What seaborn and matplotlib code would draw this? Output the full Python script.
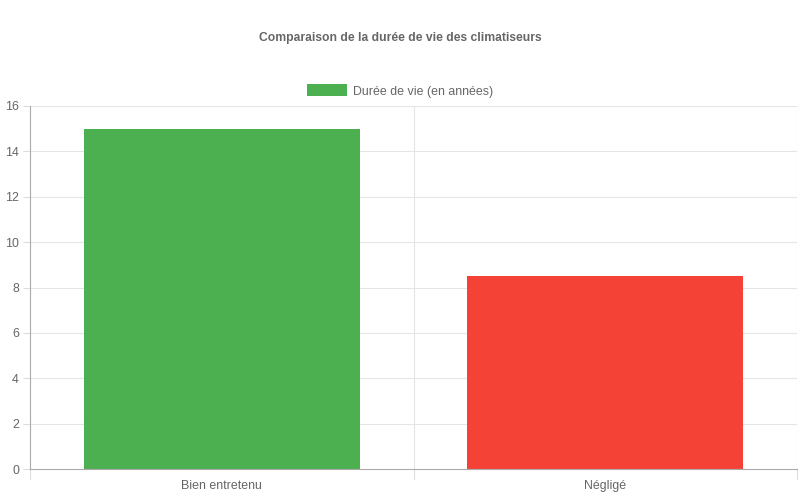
import matplotlib
matplotlib.use("Agg")
import matplotlib.pyplot as plt
import seaborn as sns
import pandas as pd
from matplotlib.patches import Rectangle

categories = ["Bien entretenu", "Négligé"]
values = [15, 8.5]
colors = ["#4CAF50", "#F44336"]
series_label = "Durée de vie (en années)"
title = "Comparaison de la durée de vie des climatiseurs"
yticks = [0, 2, 4, 6, 8, 10, 12, 14, 16]

sns.set_theme(style="white")
plt.rcParams["font.family"] = ["Liberation Sans", "DejaVu Sans"]

df = pd.DataFrame({"cat": categories, "val": values})

fig = plt.figure(figsize=(8, 5), dpi=100)
ax = fig.add_axes([30/800, 31/500, 767/800, 363/500])

sns.barplot(data=df, x="cat", y="val", hue="cat", palette=colors, width=0.72,
            legend=False, ax=ax, saturation=1, edgecolor="none", linewidth=0)

ax.set_xlim(-0.5, 1.5)
ax.set_ylim(0, 16)
ax.set_yticks(yticks)
ax.set_yticklabels([str(t) for t in yticks])
ax.set_xlabel("")
ax.set_ylabel("")

# grid lines
for t in yticks[1:]:
    ax.axhline(t, color="#e5e5e5", lw=0.8, zorder=0)
for xb in [0.5, 1.5]:
    ax.axvline(xb, color="#e5e5e5", lw=0.8, zorder=0)

for s in ["top", "right"]:
    ax.spines[s].set_visible(False)
ax.spines["left"].set_color("#aaaaaa")
ax.spines["bottom"].set_color("#aaaaaa")
ax.spines["left"].set_linewidth(0.8)
ax.spines["bottom"].set_linewidth(0.8)

ax.tick_params(axis="y", length=5, width=0.8, color="#dddddd", labelcolor="#666666",
               labelsize=8.9, pad=3, left=True)
ax.tick_params(axis="x", length=0, labelcolor="#666666", labelsize=8.9, pad=8)

# x tick marks at category boundaries (below axis)
for xb in [-0.5, 0.5, 1.5]:
    ax.plot([xb, xb], [0, -10/363*16], color="#dddddd", lw=0.8, clip_on=False, zorder=1)

fig.text(0.5, 1 - 38.5/500, title, ha="center", va="center", fontsize=8.7,
         fontweight="bold", color="#666666")

# legend
fig.patches.append(Rectangle((307/800, 1 - 96/500), 40/800, 12/500, transform=fig.transFigure,
                             facecolor=colors[0], edgecolor="none"))
fig.text(353/800, 1 - 91.5/500, series_label, ha="left", va="center", fontsize=8.9, color="#666666")

fig.savefig("out.png", dpi=100)
